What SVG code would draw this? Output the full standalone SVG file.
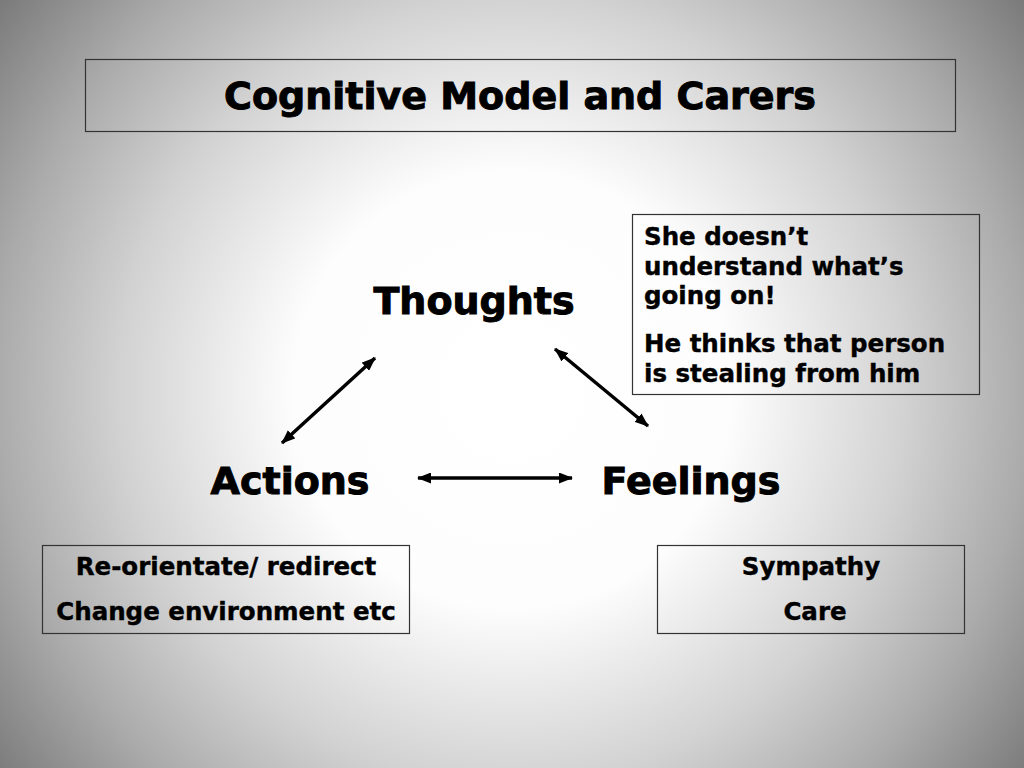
<svg xmlns="http://www.w3.org/2000/svg" width="1024" height="768" viewBox="0 0 1024 768">
<defs>
<radialGradient id="bg" gradientUnits="userSpaceOnUse" cx="512" cy="390" r="644">
<stop offset="0" stop-color="#ffffff"/>
<stop offset="0.34" stop-color="#fdfdfd"/>
<stop offset="0.61" stop-color="#d2d2d2"/>
<stop offset="0.8" stop-color="#ababab"/>
<stop offset="1" stop-color="#7a7a7a"/>
</radialGradient>
<marker id="ah" viewBox="0 0 14 11" refX="13" refY="5.5" markerWidth="14" markerHeight="11" markerUnits="userSpaceOnUse" orient="auto-start-reverse">
<path d="M0,0 L14,5.5 L0,11 Z" fill="#000"/>
</marker>
<style>
.box{fill:none;stroke:#333;stroke-width:1.2}
.lbl{font-family:"DejaVu Sans",Verdana,sans-serif;font-weight:bold;fill:#000}
.big{font-size:38px;stroke:#000;stroke-width:1}
.small{font-size:24.5px;stroke:#000;stroke-width:0.4}
.title{font-size:38px;stroke:#000;stroke-width:1}
.conn{stroke:#000;stroke-width:3.5;fill:none;marker-start:url(#ah);marker-end:url(#ah)}
</style>
</defs>
<rect width="1024" height="768" fill="url(#bg)"/>
<g id="title">
<rect class="box" x="85.5" y="59.5" width="870" height="72"/>
<text class="lbl title" x="520" y="109" text-anchor="middle">Cognitive Model and Carers</text>
</g>
<g id="thoughts">
<text class="lbl big" x="474" y="314" text-anchor="middle">Thoughts</text>
</g>
<g id="actions">
<text class="lbl big" x="290" y="494" text-anchor="middle">Actions</text>
</g>
<g id="feelings">
<text class="lbl big" x="691" y="494" text-anchor="middle">Feelings</text>
</g>
<g id="thoughts-note">
<rect class="box" x="632.5" y="214.5" width="347" height="180"/>
<text class="lbl small" x="644" y="245">She doesn’t</text>
<text class="lbl small" x="644" y="275">understand what’s</text>
<text class="lbl small" x="644" y="304">going on!</text>
<text class="lbl small" x="644" y="352">He thinks that person</text>
<text class="lbl small" x="644" y="382">is stealing from him</text>
</g>
<g id="actions-note">
<rect class="box" x="42.5" y="545.5" width="367" height="88"/>
<text class="lbl small" x="226" y="575" text-anchor="middle">Re-orientate/ redirect</text>
<text class="lbl small" x="226" y="620" text-anchor="middle">Change environment etc</text>
</g>
<g id="feelings-note">
<rect class="box" x="657.5" y="545.5" width="307" height="88"/>
<text class="lbl small" x="811" y="575" text-anchor="middle">Sympathy</text>
<text class="lbl small" x="815" y="620" text-anchor="middle">Care</text>
</g>
<g id="connectors">
<line class="conn" x1="375" y1="358" x2="282" y2="443"/>
<line class="conn" x1="555" y1="349" x2="648" y2="426"/>
<line class="conn" x1="418" y1="478" x2="572" y2="478"/>
</g>
</svg>
